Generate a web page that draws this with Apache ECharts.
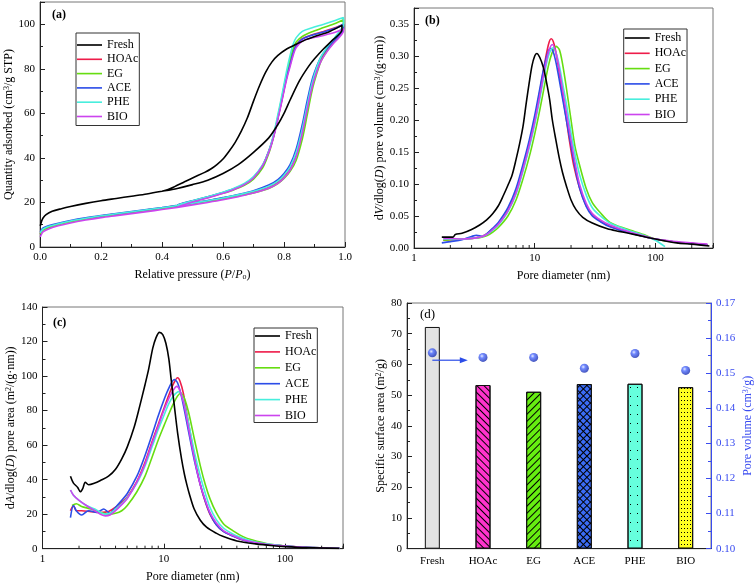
<!DOCTYPE html>
<html><head><meta charset="utf-8">
<script src="https://cdn.jsdelivr.net/npm/echarts@6/dist/echarts.min.js"></script>
<style>html,body{margin:0;padding:0;background:#fff}#c{width:756px;height:584px}</style>
</head><body><div id="c"></div>
<script>
const samples = ['Fresh','HOAc','EG','ACE','PHE','BIO'];
const lineColors = ['#000000','#ee1c4a','#66dd11','#2c4de8','#48eedd','#cc44ee'];

// (a) N2 isotherms: adsorption branch followed by desorption branch [P/Po, Q]
const isoFresh = [[0.001,9.5],[0.005,11.5],[0.01,13],[0.02,14.5],[0.04,16],[0.07,17.2],[0.1,18.2],[0.15,19.6],[0.2,20.8],[0.25,21.8],[0.3,22.8],[0.35,23.8],[0.4,25],[0.45,26.3],[0.5,28],[0.55,30],[0.6,33],[0.65,37],[0.7,42.5],[0.75,49],[0.78,55],[0.8,60],[0.82,66],[0.85,74.5],[0.88,81],[0.9,84.5],[0.93,89],[0.96,93],[0.99,97.5],
  [0.99,99.5],[0.95,96.8],[0.9,94.5],[0.87,93],[0.84,91],[0.81,89],[0.78,86],[0.76,83],[0.74,78.5],[0.72,72.5],[0.7,65.5],[0.68,58],[0.66,52],[0.64,47],[0.62,43],[0.6,39.5],[0.58,37],[0.56,35],[0.54,33.5],[0.5,31],[0.47,29],[0.44,27],[0.42,25.8],[0.4,25]];
const isoHOAc = [[0.001,6],[0.005,7],[0.01,7.8],[0.03,9],[0.06,10.2],[0.1,11.5],[0.15,12.8],[0.2,13.9],[0.25,14.8],[0.3,15.7],[0.35,16.6],[0.4,17.5],[0.45,18.6],[0.5,19.7],[0.55,20.8],[0.6,22],[0.65,23.3],[0.7,24.8],[0.75,27],[0.78,29.3],[0.8,31.8],[0.82,35.5],[0.84,41.5],[0.86,52],[0.875,62],[0.89,71.5],[0.9,76.5],[0.92,84],[0.94,88.5],[0.96,91.5],[0.98,94.5],[0.995,98],
  [0.995,100],[0.97,98.5],[0.93,96.8],[0.89,95.2],[0.86,93.5],[0.84,90.5],[0.83,87],[0.82,82],[0.81,77],[0.8,70.5],[0.79,64],[0.78,58],[0.77,52],[0.76,47],[0.75,43],[0.73,36.5],[0.7,31.2],[0.67,28.2],[0.63,25.8],[0.6,24.4],[0.55,22.4],[0.5,20.6],[0.47,19.6],[0.45,18.7]];
const isoEG = [[0.001,5.8],[0.005,6.8],[0.01,7.6],[0.03,8.8],[0.06,10],[0.1,11.3],[0.15,12.6],[0.2,13.7],[0.25,14.6],[0.3,15.5],[0.35,16.4],[0.4,17.3],[0.45,18.3],[0.5,19.4],[0.55,20.5],[0.6,21.6],[0.65,22.9],[0.7,24.3],[0.75,26.3],[0.78,28.5],[0.8,30.8],[0.82,34],[0.84,39],[0.86,48.5],[0.875,58.5],[0.89,69],[0.9,74.5],[0.92,83],[0.94,88],[0.96,91.5],[0.98,95],[0.995,99],
  [0.995,102],[0.97,100.5],[0.93,98.5],[0.89,96.5],[0.86,94.5],[0.84,92],[0.83,89],[0.82,84],[0.81,78.5],[0.8,72],[0.79,65],[0.78,58.5],[0.77,52],[0.76,46.5],[0.75,42],[0.73,35.5],[0.7,30.5],[0.67,27.7],[0.63,25.4],[0.6,24.1],[0.55,22.2],[0.5,20.4],[0.47,19.3],[0.45,18.4]];
const isoACE = [[0.001,6.8],[0.005,7.8],[0.01,8.5],[0.03,9.6],[0.06,10.7],[0.1,11.9],[0.15,13.1],[0.2,14.1],[0.25,15],[0.3,15.9],[0.35,16.8],[0.4,17.7],[0.45,18.7],[0.5,19.8],[0.55,20.9],[0.6,22.2],[0.65,23.6],[0.7,25.3],[0.75,27.8],[0.78,30.3],[0.8,33],[0.82,37],[0.84,44],[0.86,55],[0.875,65],[0.89,74],[0.9,78.5],[0.92,85],[0.94,89],[0.96,92],[0.98,95],[0.995,98],
  [0.995,100],[0.97,98.3],[0.93,96.5],[0.89,95],[0.86,93.3],[0.84,90.5],[0.83,87],[0.82,82],[0.81,77],[0.8,71],[0.79,64.5],[0.78,58],[0.77,52],[0.76,47],[0.75,43],[0.73,36.5],[0.7,31.2],[0.67,28.2],[0.63,25.8],[0.6,24.5],[0.55,22.6],[0.5,20.8],[0.47,19.7],[0.45,18.8]];
const isoPHE = [[0.001,6.3],[0.005,7.3],[0.01,8.1],[0.03,9.3],[0.06,10.4],[0.1,11.7],[0.15,12.9],[0.2,14],[0.25,14.9],[0.3,15.8],[0.35,16.7],[0.4,17.6],[0.45,18.6],[0.5,19.7],[0.55,20.8],[0.6,22],[0.65,23.4],[0.7,25],[0.75,27.3],[0.78,29.6],[0.8,32.2],[0.82,36],[0.84,42.5],[0.86,53],[0.875,63],[0.89,72.5],[0.9,77.5],[0.92,85],[0.94,89.5],[0.96,93],[0.98,96.5],[0.995,100],
  [0.995,103],[0.97,101.8],[0.93,100],[0.89,98.3],[0.86,96.8],[0.84,94],[0.83,91],[0.82,86],[0.81,80],[0.8,73],[0.79,66],[0.78,59.5],[0.77,53],[0.76,47.5],[0.75,43],[0.73,37],[0.7,31.6],[0.67,28.5],[0.63,26],[0.6,24.6],[0.55,22.6],[0.5,20.8],[0.47,19.6],[0.45,18.7]];
const isoBIO = [[0.001,4.5],[0.005,5.8],[0.01,6.8],[0.03,8.2],[0.06,9.5],[0.1,10.8],[0.15,12.1],[0.2,13.2],[0.25,14.1],[0.3,15],[0.35,15.9],[0.4,16.8],[0.45,17.8],[0.5,18.9],[0.55,20],[0.6,21.2],[0.65,22.6],[0.7,24.2],[0.75,26.4],[0.78,28.6],[0.8,31],[0.82,34.5],[0.84,40.5],[0.86,51],[0.875,61],[0.89,70.5],[0.9,75.5],[0.92,83],[0.94,87.5],[0.96,91],[0.98,94],[0.995,97],
  [0.995,98],[0.97,96.5],[0.93,95],[0.89,93.8],[0.86,92.5],[0.84,89.5],[0.83,86],[0.82,81],[0.81,76],[0.8,70],[0.79,63.5],[0.78,57.5],[0.77,51.5],[0.76,46.5],[0.75,42.5],[0.73,36.5],[0.7,31],[0.67,28],[0.63,25.5],[0.6,24.1],[0.55,22],[0.5,20.2],[0.47,18.9],[0.45,17.9]];

// (b) dV/dlog(D) [D nm, V]
const pvFresh = [[1.7,0.017],[1.9,0.017],[2.1,0.017],[2.2,0.021],[2.5,0.023],[3,0.029],[3.5,0.036],[4,0.044],[4.5,0.054],[5,0.066],[5.5,0.082],[6,0.098],[6.5,0.114],[7,0.138],[7.5,0.163],[8,0.19],[8.5,0.226],[9,0.258],[9.5,0.285],[10,0.3],[10.4,0.304],[11,0.298],[11.8,0.282],[12.5,0.26],[13.3,0.232],[14,0.2],[15,0.168],[16,0.14],[17,0.118],[18.3,0.097],[20,0.075],[22,0.06],[25,0.048],[30,0.039],[40,0.03],[50,0.026],[60,0.023],[80,0.018],[100,0.014],[150,0.008],[200,0.006],[280,0.003]];
const pvHOAc = [[1.75,0.012],[2,0.013],[2.5,0.014],[3,0.015],[3.5,0.017],[4,0.022],[4.5,0.03],[5,0.038],[6,0.06],[7,0.088],[8,0.126],[9,0.163],[10,0.2],[11,0.243],[12,0.285],[13,0.318],[13.7,0.327],[14.5,0.318],[15.5,0.29],[16.5,0.255],[18,0.21],[19.5,0.165],[21,0.13],[23.5,0.094],[26.7,0.066],[30,0.052],[35,0.042],[42,0.034],[57,0.026],[80,0.018],[100,0.014],[150,0.009],[200,0.007],[270,0.005]];
const pvEG = [[1.75,0.012],[2,0.013],[2.5,0.014],[3,0.015],[3.5,0.016],[4,0.019],[4.5,0.025],[5,0.032],[6,0.05],[7,0.075],[8,0.108],[9,0.142],[10,0.178],[11,0.215],[12,0.252],[13,0.285],[14,0.306],[15,0.315],[16,0.31],[17,0.288],[18.3,0.25],[20,0.2],[21.5,0.16],[23.5,0.13],[26.7,0.093],[30,0.071],[35,0.055],[42,0.04],[57,0.03],[80,0.021],[100,0.014],[150,0.009],[200,0.007],[270,0.005]];
const pvACE = [[1.7,0.008],[2,0.01],[2.5,0.013],[3,0.018],[3.3,0.02],[3.7,0.018],[4,0.022],[4.5,0.031],[5,0.04],[6,0.063],[7,0.093],[8,0.131],[9,0.168],[10,0.207],[11,0.248],[12,0.285],[13,0.308],[13.5,0.312],[14.2,0.307],[15,0.29],[16,0.262],[17,0.234],[18.3,0.2],[20,0.16],[21.5,0.128],[23.5,0.094],[26.7,0.065],[30,0.05],[35,0.041],[42,0.033],[57,0.025],[80,0.018],[100,0.014],[150,0.009],[200,0.007],[270,0.005]];
const pvPHE = [[1.75,0.014],[2,0.014],[2.5,0.014],[3,0.015],[3.5,0.017],[4,0.021],[4.5,0.028],[5,0.036],[6,0.057],[7,0.084],[8,0.12],[9,0.156],[10,0.193],[11,0.232],[12,0.27],[13,0.3],[14.2,0.313],[15,0.305],[16,0.285],[17,0.258],[18.3,0.225],[20,0.18],[21.5,0.148],[23.5,0.115],[26.7,0.083],[30,0.063],[35,0.05],[42,0.039],[57,0.029],[80,0.02],[100,0.012],[120,0.002]];
const pvBIO = [[1.75,0.015],[2,0.015],[2.5,0.014],[3,0.015],[3.5,0.017],[4,0.021],[4.5,0.029],[5,0.037],[6,0.058],[7,0.086],[8,0.123],[9,0.16],[10,0.197],[11,0.237],[12,0.276],[13,0.306],[14,0.318],[15,0.305],[16,0.278],[17,0.248],[18.3,0.212],[20,0.168],[21.5,0.135],[23.5,0.1],[26.7,0.07],[30,0.054],[35,0.044],[42,0.036],[57,0.027],[80,0.019],[100,0.014],[150,0.01],[200,0.008],[270,0.006]];

// (c) dA/dlog(D) [D nm, A]
const paFresh = [[1.7,42],[1.8,38],[1.95,35.5],[2.05,33],[2.15,35],[2.25,38.5],[2.4,37],[2.7,38],[3,39.5],[3.5,42],[4,46],[4.5,52],[5,59],[5.7,70.5],[6.3,82],[7,95],[7.5,104],[8.1,116],[8.6,122],[9.2,125.3],[9.8,124],[10.4,119],[11,110],[11.5,98],[12.2,83],[13,67],[14,52],[14.8,43],[15.5,37],[16.2,32],[17.8,23],[20,16.5],[22.5,12.5],[27,9],[31,7],[40,4.5],[57,2.8],[80,1.7],[100,1.2],[150,0.6],[280,0.2]];
const paHOAc = [[1.7,22],[1.8,25],[1.9,22],[2.1,22],[2.5,21.5],[3,21],[3.5,21.5],[4,24],[4.5,27],[5,30],[6,39],[7,50],[8,62],[9,72],[10,81],[11,89],[12,95.5],[13,99],[13.6,97],[14.5,90],[15.5,78],[17,62],[18.5,48],[20,37],[22,27],[24,20],[27,14],[31,10],[37,7.5],[45,5],[54,3.8],[70,2.5],[100,1.5],[150,0.8],[280,0.3]];
const paEG = [[1.75,25],[1.9,26],[2.1,24.5],[2.5,23],[3,21],[3.5,20],[4,20.5],[4.5,22],[5,25],[6,33],[7,42],[8,53],[9,63],[10,71],[11,78],[12,84],[13,88.5],[13.8,90],[14.8,87],[16,79],[17.8,64],[20,48],[22,37],[24,29],[27,21],[31,14.5],[37,10.5],[45,7],[54,5],[70,3],[100,1.6],[150,0.8],[280,0.3]];
const paACE = [[1.7,18],[1.8,25],[1.9,22],[2.1,19.5],[2.4,22],[2.8,21],[3.2,23],[3.6,20.5],[4,24],[4.5,28],[5,32],[6,42],[7,54],[8,66],[9,77],[10,86],[11,93],[12.2,98],[13,96],[14,88],[15,78],[16.5,63],[18,50],[20,37],[22,27.5],[24,20.5],[27,14],[31,10],[37,7.3],[45,5],[54,3.8],[70,2.5],[100,1.5],[150,0.8],[280,0.3]];
const paPHE = [[1.7,34],[1.8,31],[2,28],[2.3,25],[2.7,23],[3,21],[3.3,20],[3.6,20.5],[4,23],[4.5,26],[5,29.5],[6,38],[7,48],[8,59],[9,69],[10,77],[11,84],[12,88.5],[13.3,91],[14,89],[15,82],[16.5,68],[18,55],[20,42],[22,32],[24,24],[27,17],[31,12],[37,8.5],[45,6],[54,4.3],[70,2.8],[100,1.5],[150,0.8],[280,0.3]];
const paBIO = [[1.7,34],[1.8,31],[2,28],[2.3,25],[2.7,22],[3,20],[3.3,19],[3.6,19.5],[4,22],[4.5,25.5],[5,29],[6,38.5],[7,49],[8,61],[9,71],[10,80],[11,87],[12,92],[12.8,94],[13.5,92],[14.5,85],[15.5,75],[17,60],[18.5,47],[20,37],[22,28],[24,21],[27,15],[31,10.5],[37,7.6],[45,5.2],[54,3.9],[70,2.6],[100,1.5],[150,0.8],[280,0.3]];

// (d) surface area and pore volume
const bet = [72.2, 53.3, 51.1, 53.6, 53.7, 52.6];
const poreVol = [0.1558, 0.1545, 0.1545, 0.1514, 0.1556, 0.1508];
const arrowLevel = 0.1537;
const aTicks = [0, 20, 40, 60, 80, 100];
const logTickLabels = [1, 10, 100];

const FONT = 'Liberation Serif';
const isoSets = [isoFresh, isoHOAc, isoEG, isoACE, isoPHE, isoBIO];
const pvSets = [pvFresh, pvHOAc, pvEG, pvACE, pvPHE, pvBIO];
const paSets = [paFresh, paHOAc, paEG, paACE, paPHE, paBIO];
const barColors = ['#e3e3e3', '#ff33cc', '#66ee11', '#3b6cf5', '#66ffdd', '#ffff22'];
const barDecals = [
  null,
  {symbol:'rect', color:'#000', dashArrayX:[1,0], dashArrayY:[1,4], rotation:Math.PI/4},
  {symbol:'rect', color:'#000', dashArrayX:[1,0], dashArrayY:[1,4], rotation:-Math.PI/4},
  {symbol:'path://M0 2L5 2L5 3L0 3Z M2 0L3 0L3 5L2 5Z', color:'#000', symbolKeepAspect:false, dashArrayX:[5,0], dashArrayY:[5,0], rotation:Math.PI/4},
  {symbol:'rect', color:'#000', dashArrayX:[1,6], dashArrayY:[1,8]},
  {symbol:'rect', color:'#000', dashArrayX:[1,2], dashArrayY:[1,3]}
];

const chart = echarts.init(document.getElementById('c'), null, {renderer:'canvas'});

function rt(size, color) {
  return {
    n:{fontFamily:FONT, fontSize:size, color:color},
    i:{fontFamily:FONT, fontSize:size, color:color, fontStyle:'italic'},
    sup:{fontFamily:FONT, fontSize:Math.round(size*0.65), color:color, verticalAlign:'top', lineHeight:size},
    sub:{fontFamily:FONT, fontSize:Math.round(size*0.65), color:color, verticalAlign:'bottom', lineHeight:size}
  };
}
const axisCommon = (color) => ({
  axisLine:{show:true, lineStyle:{color:color||'#222', width:1}},
  axisTick:{show:true, inside:true, length:5, lineStyle:{color:color||'#222'}},
  minorTick:{show:true, splitNumber:2, length:3, lineStyle:{color:color||'#222'}},
  splitLine:{show:false},
  axisLabel:{fontFamily:FONT, fontSize:11, color:color||'#000', margin:5},
  nameTextStyle:{fontFamily:FONT, fontSize:12, color:color||'#000', rich:rt(12, color||'#000')}
});

const grids = [
  {left:40, top:2, width:305, height:245},
  {left:414, top:8, width:299, height:240},
  {left:42.5, top:307, width:300.5, height:241.7},
  {left:407, top:303, width:304, height:245.7}
];
grids.forEach(g => { g.show = true; g.borderColor = '#777'; g.borderWidth = 1; g.containLabel = false; });

const logFmt = v => { const r = Math.round(v); return (logTickLabels.includes(r) && Math.abs(v - r) < 1e-6) ? String(r) : ''; };
const xAxes = [
  Object.assign(axisCommon(), {type:'value', gridIndex:0, min:0, max:1, interval:0.2,
    axisLabel:{fontFamily:FONT, fontSize:11, color:'#000', margin:5, formatter:v=>v.toFixed(1)},
    name:'{n|Relative pressure (}{i|P}{n|/}{i|P}{sub|o}{n|)}', nameLocation:'middle', nameGap:22}),
  Object.assign(axisCommon(), {type:'log', gridIndex:1, min:1, max:300, logBase:10,
    minorTick:{show:false},
    axisLabel:{fontFamily:FONT, fontSize:11, color:'#000', margin:5, formatter:logFmt},
    name:'{n|Pore diameter (nm)}', nameLocation:'middle', nameGap:22}),
  Object.assign(axisCommon(), {type:'log', gridIndex:2, min:1, max:300, logBase:10,
    minorTick:{show:false},
    axisLabel:{fontFamily:FONT, fontSize:11, color:'#000', margin:5, formatter:logFmt},
    name:'{n|Pore diameter (nm)}', nameLocation:'middle', nameGap:22}),
  Object.assign(axisCommon(), {type:'category', gridIndex:3, data:samples,
    axisTick:{show:false}, minorTick:{show:false},
    axisLabel:{fontFamily:FONT, fontSize:11, color:'#000', margin:7}})
];
const yAxes = [
  Object.assign(axisCommon(), {type:'value', gridIndex:0, min:0, max:110, interval:20,
    axisLabel:{fontFamily:FONT, fontSize:11, color:'#000', margin:5, formatter:v=>aTicks.includes(v)?String(v):''},
    name:'{n|Quantity adsorbed (cm}{sup|3}{n|/g STP)}', nameLocation:'middle', nameGap:24}),
  Object.assign(axisCommon(), {type:'value', gridIndex:1, min:0, max:0.375, interval:0.05,
    axisLabel:{fontFamily:FONT, fontSize:11, color:'#000', margin:5, formatter:v=>v>0.36?'':v.toFixed(2)},
    name:'{n|d}{i|V}{n|/dlog(}{i|D}{n|) pore volume (cm}{sup|3}{n|/(g·nm))}', nameLocation:'middle', nameGap:28}),
  Object.assign(axisCommon(), {type:'value', gridIndex:2, min:0, max:140, interval:20,
    name:'{n|d}{i|A}{n|/dlog(}{i|D}{n|) pore area (m}{sup|2}{n|/(g·nm))}', nameLocation:'middle', nameGap:26}),
  Object.assign(axisCommon(), {type:'value', gridIndex:3, min:0, max:80, interval:10,
    name:'{n|Specific surface area (m}{sup|2}{n|/g)}', nameLocation:'middle', nameGap:20}),
  Object.assign(axisCommon('#3a4cf0'), {type:'value', gridIndex:3, position:'right', min:0.1, max:0.17, interval:0.01,
    axisLabel:{fontFamily:FONT, fontSize:11, color:'#3a4cf0', margin:5, formatter:v=>v.toFixed(2)},
    name:'{n|Pore volume (cm}{sup|3}{n|/g)}', nameLocation:'middle', nameGap:31, nameRotate:90})
];

const series = [];
function addLines(sets, xi, yi) {
  sets.forEach((d, k) => {
    series.push({type:'line', name:samples[k], xAxisIndex:xi, yAxisIndex:yi, data:d,
      symbol:'none', smooth:0.3, lineStyle:{width:1.6, color:lineColors[k]}, itemStyle:{color:lineColors[k]},
      z: k===0 ? 3 : 2, animation:false});
  });
}
addLines(isoSets, 0, 0);
addLines(pvSets, 1, 1);
addLines(paSets, 2, 2);
series.push({type:'bar', xAxisIndex:3, yAxisIndex:3, barWidth:15, animation:false,
  data: bet.map((v,k) => ({value:v, itemStyle:{color:barColors[k], borderColor:'#111', borderWidth:1, decal: barDecals[k] || undefined}}))});
const scatterIndex = series.length;
series.push({type:'scatter', xAxisIndex:3, yAxisIndex:4, symbolSize:9, animation:false, z:5,
  itemStyle:{color:{type:'radial', x:0.38, y:0.35, r:0.65, colorStops:[{offset:0,color:'#dfe6ff'},{offset:0.35,color:'#4d6cff'},{offset:1,color:'#1a2fb0'}]}},
  data: poreVol});

function legendAt(left, top, gap, pad) {
  return {orient:'vertical', left:left, top:top, data:samples, itemWidth:25, itemHeight:12, itemGap:gap,
    padding:pad, borderColor:'#333', borderWidth:1, backgroundColor:'#fff', selectedMode:false,
    icon:'path://M0 0H40V2.6H0Z',
    textStyle:{fontFamily:FONT, fontSize:12, color:'#000', lineHeight:12}};
}

const option = {
  animation:false,
  textStyle:{fontFamily:FONT},
  grid: grids,
  xAxis: xAxes,
  yAxis: yAxes,
  legend: [legendAt(76, 33, 2.3, [6,1,3,1]), legendAt(623.7, 29, 3.3, [3,1,2,1]), legendAt(254, 328, 3.9, [2,1,1,1])],
  series: series,
  graphic: [
    {type:'text', left:52, top:9, style:{text:'(a)', font:'bold 12px "Liberation Serif"', fill:'#000'}},
    {type:'text', left:425, top:15, style:{text:'(b)', font:'bold 12px "Liberation Serif"', fill:'#000'}},
    {type:'text', left:53, top:317, style:{text:'(c)', font:'bold 12px "Liberation Serif"', fill:'#000'}},
    {type:'text', left:420, top:308, style:{text:'(d)', font:'13px "Liberation Serif"', fill:'#000'}}
  ]
};
chart.setOption(option);

// log-axis minor ticks (2..9 in each decade) and arrow, positioned through the axes' own scales
const extra = [];
[[1,1],[2,2]].forEach(([xi, yi]) => {
  const y0 = chart.convertToPixel({yAxisIndex:yi}, 0);
  [1,10,100].forEach(dec => {
    for (let m = 2; m <= 9; m++) {
      const v = dec*m; if (v > 300) continue;
      const x = chart.convertToPixel({xAxisIndex:xi}, v);
      extra.push({type:'line', shape:{x1:x, y1:y0, x2:x, y2:y0-3}, style:{stroke:'#222', lineWidth:1}, silent:true});
    }
  });
});
const p0 = chart.convertToPixel({seriesIndex:scatterIndex}, [0, arrowLevel]);
const p1 = chart.convertToPixel({seriesIndex:scatterIndex}, [1, arrowLevel]);
const xEnd = p0[0] + 0.7*(p1[0]-p0[0]);
extra.push({type:'line', shape:{x1:p0[0], y1:p0[1], x2:xEnd-6, y2:p0[1]}, style:{stroke:'#2c4de8', lineWidth:1.2}, z:10});
extra.push({type:'polygon', shape:{points:[[xEnd,p0[1]],[xEnd-8,p0[1]-3],[xEnd-8,p0[1]+3]]}, style:{fill:'#2c4de8'}, z:10});
chart.setOption({graphic: option.graphic.concat(extra)});
</script></body></html>
